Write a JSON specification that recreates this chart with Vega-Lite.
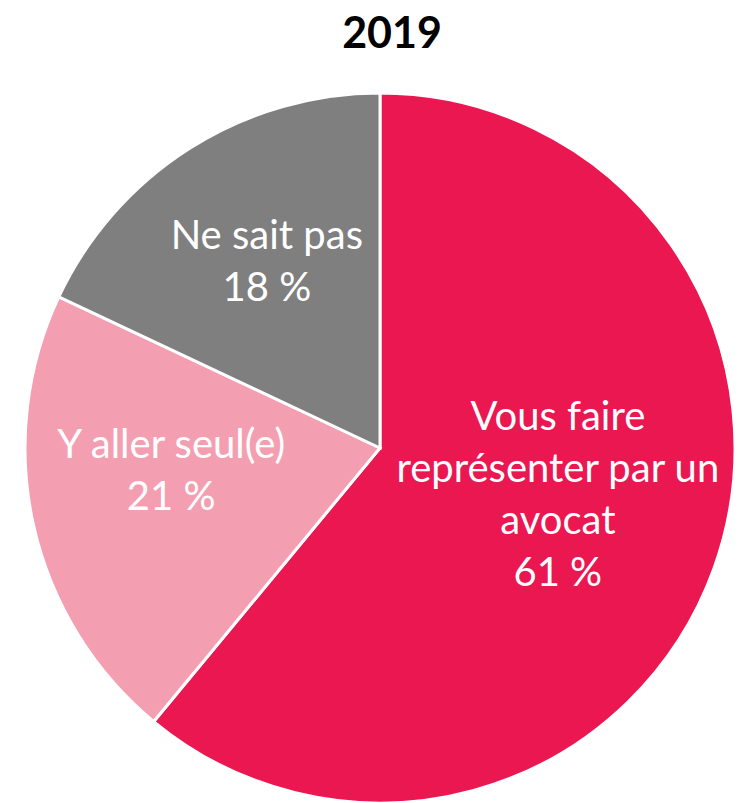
{
  "$schema": "https://vega.github.io/schema/vega-lite/v6.json",
  "width": 710,
  "height": 710,
  "autosize": {"type": "none"},
  "padding": {"left": 25, "top": 93, "right": 11, "bottom": 0},
  "background": "white",
  "title": {"text": "2019", "font": "Lato", "fontSize": 43, "fontWeight": "bold", "color": "black", "offset": 30, "anchor": "middle", "dx": 12},
  "config": {"view": {"stroke": null}, "text": {"font": "Lato", "fontSize": 40, "lineBreak": "\n", "lineHeight": 52, "color": "white", "align": "center", "baseline": "middle"}},
  "data": {
    "values": [
      {"categorie": "Vous faire représenter par un avocat", "valeur": 61, "rang": 1, "etiquette": "Vous faire\nreprésenter par un\navocat\n61 %"},
      {"categorie": "Y aller seul(e)", "valeur": 21, "rang": 2, "etiquette": "Y aller seul(e)\n21 %"},
      {"categorie": "Ne sait pas", "valeur": 18, "rang": 3, "etiquette": "Ne sait pas\n18 %"}
    ]
  },
  "transform": [
    {"stack": "valeur", "groupby": [], "sort": [{"field": "rang", "order": "ascending"}], "as": ["debut", "fin"]},
    {"calculate": "(datum.debut + datum.fin) / 2", "as": "milieu"}
  ],
  "layer": [
    {
      "mark": {"type": "arc", "outerRadius": 355, "stroke": "white", "strokeWidth": 3},
      "encoding": {
        "theta": {"field": "debut", "type": "quantitative", "scale": {"domain": [0, 100]}},
        "theta2": {"field": "fin"},
        "color": {
          "field": "categorie",
          "type": "nominal",
          "scale": {"domain": ["Vous faire représenter par un avocat", "Y aller seul(e)", "Ne sait pas"], "range": ["#EB1751", "#F49FB1", "#7F7F7F"]},
          "legend": null
        }
      }
    },
    {
      "transform": [{"filter": "datum.rang == 1"}],
      "mark": {"type": "text", "radius": 189, "dy": -94},
      "encoding": {
        "theta": {"field": "milieu", "type": "quantitative", "scale": {"domain": [0, 100]}},
        "text": {"field": "etiquette"}
      }
    },
    {
      "transform": [{"filter": "datum.rang == 2"}],
      "mark": {"type": "text", "radius": 214, "dy": -49},
      "encoding": {
        "theta": {"field": "milieu", "type": "quantitative", "scale": {"domain": [0, 100]}},
        "text": {"field": "etiquette"}
      }
    },
    {
      "transform": [{"filter": "datum.rang == 3"}],
      "mark": {"type": "text", "radius": 200, "dx": -6, "dy": -42},
      "encoding": {
        "theta": {"field": "milieu", "type": "quantitative", "scale": {"domain": [0, 100]}},
        "text": {"field": "etiquette"}
      }
    }
  ]
}
